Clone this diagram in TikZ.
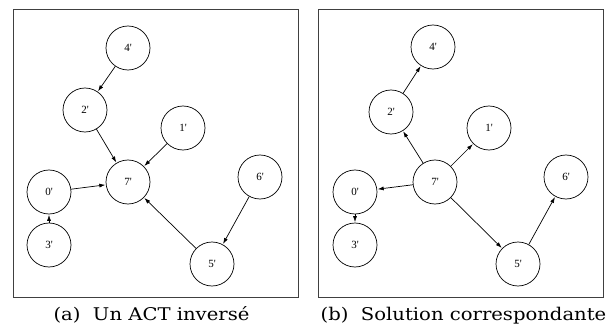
\documentclass[tikz,border=0pt]{standalone}
\usepackage{fontspec}
\newfontfamily\labfont{Liberation Serif}
\newfontfamily\capfont[FakeStretch=1.12]{DejaVu Serif}
\usetikzlibrary{arrows.meta}
\tikzset{
  vert/.style={draw, circle, line width=0.7pt, minimum size=44pt, inner sep=0pt, font=\labfont\fontsize{11}{11}\selectfont},
  edge/.style={line width=0.7pt, -{Latex[length=6pt,width=4pt]}, shorten >=0.5pt},
  panel/.style={draw=black!75, line width=1pt},
  capt/.style={font=\capfont\fontsize{17.5}{17.5}\selectfont, anchor=base, inner sep=0pt}
}
\begin{document}
\begin{tikzpicture}[x=1pt,y=-1pt]
\useasboundingbox (0,0) rectangle (611,329);
% left panel
\draw[panel] (13,9.5) rectangle (298,297.5);
\node[vert] (a4) at (128,48) {4'};
\node[vert] (a2) at (85,110) {2'};
\node[vert] (a1) at (183,128) {1'};
\node[vert] (a7) at (128,182) {7'};
\node[vert] (a0) at (49,192) {0'};
\node[vert] (a6) at (260,177) {6'};
\node[vert] (a3) at (49,245) {3'};
\node[vert] (a5) at (212,264) {5'};
\draw[edge] (a4) -- (a2);
\draw[edge] (a2) -- (a7);
\draw[edge] (a1) -- (a7);
\draw[edge] (a0) -- (a7);
\draw[edge] (a3) -- (a0);
\draw[edge] (a6) -- (a5);
\draw[edge] (a5) -- (a7);
\node[capt] (ca) at (151.5,320.5) {(a)\ \ Un ACT inversé};
% right panel
\draw[panel] (318.5,9.5) rectangle (603,297.5);
\node[vert] (b4) at (433,47) {4'};
\node[vert] (b2) at (391,112) {2'};
\node[vert] (b1) at (489,128) {1'};
\node[vert] (b7) at (435,182) {7'};
\node[vert] (b0) at (355,192) {0'};
\node[vert] (b6) at (566,177) {6'};
\node[vert] (b3) at (355,245) {3'};
\node[vert] (b5) at (518,264) {5'};
\draw[edge] (b2) -- (b4);
\draw[edge] (b7) -- (b2);
\draw[edge] (b7) -- (b1);
\draw[edge] (b7) -- (b0);
\draw[edge] (b0) -- (b3);
\draw[edge] (b7) -- (b5);
\draw[edge] (b5) -- (b6);
\node[capt] (cb) at (463.5,320.5) {(b)\ \ Solution correspondante};
\end{tikzpicture}
\end{document}
